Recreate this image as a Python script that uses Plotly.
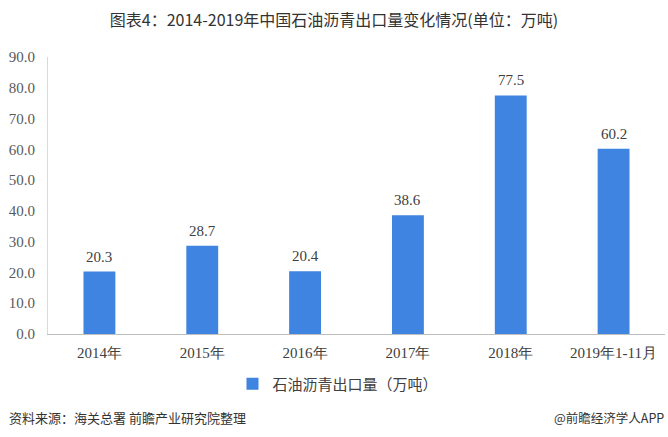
import plotly.graph_objects as go

categories = ["2014年", "2015年", "2016年", "2017年", "2018年", "2019年1-11月"]
values = [20.3, 28.7, 20.4, 38.6, 77.5, 60.2]
series_name = "石油沥青出口量（万吨）"
title_text = "图表4：2014-2019年中国石油沥青出口量变化情况(单位：万吨)"
source_text = "资料来源：海关总署 前瞻产业研究院整理"
brand_text = "@前瞻经济学人APP"

PLOT_H = 437 - 57 - 103

fig = go.Figure()
fig.add_trace(go.Bar(
    x=categories, y=values, name=series_name,
    marker=dict(color="#3F84E0", line=dict(width=0)),
    width=0.31,
    cliponaxis=False,
))

label_annotations = [
    dict(x=c, y=v, xref="x", yref="y", text=f"{v:.1f}", showarrow=False,
         xanchor="center", yanchor="bottom", yshift=5,
         font=dict(family="Liberation Serif, Times New Roman, serif", size=15, color="#404040"))
    for c, v in zip(categories, values)
]

fig.update_layout(
    width=668, height=437,
    margin=dict(l=48, r=3, t=57, b=103),
    paper_bgcolor="white", plot_bgcolor="white",
    showlegend=True,
    title=dict(text=title_text, x=0.5, xref="container", xanchor="center",
               y=1 - 20 / 437, yref="container", yanchor="middle",
               font=dict(family="Noto Sans CJK SC, sans-serif", size=16, color="#333333")),
    legend=dict(orientation="h", x=0.47, xanchor="center", y=(334 - 384) / PLOT_H, yanchor="middle",
                font=dict(family="Noto Sans CJK SC, sans-serif", size=15, color="#404040"),
                itemwidth=30),
    xaxis=dict(showline=True, linecolor="#BFBFBF", linewidth=1, ticks="",
               ticklabelstandoff=5,
               tickfont=dict(family="Liberation Serif, Times New Roman, serif", size=15, color="#404040"),
               showgrid=False),
    yaxis=dict(range=[0, 90], dtick=10, tickformat=".1f", showgrid=False,
               showline=True, linecolor="#D9D9D9", linewidth=1, ticks="",
               ticklabelstandoff=9,
               tickfont=dict(family="Liberation Serif, Times New Roman, serif", size=15, color="#595959"),
               zeroline=False),
    annotations=label_annotations + [
        dict(text=source_text, xref="paper", yref="paper", x=(7 - 48) / 617, y=(334 - 418) / PLOT_H,
             xanchor="left", yanchor="middle", showarrow=False,
             font=dict(family="Noto Sans CJK SC, sans-serif", size=13, color="#333333")),
        dict(text=brand_text, xref="paper", yref="paper", x=(666 - 48) / 617, y=(334 - 418) / PLOT_H,
             xanchor="right", yanchor="middle", showarrow=False,
             font=dict(family="Noto Sans CJK SC, sans-serif", size=12.5, color="#333333")),
    ],
)

fig.write_html("out.html", config={"displayModeBar": False},
               post_script="document.body.style.margin='0';")
